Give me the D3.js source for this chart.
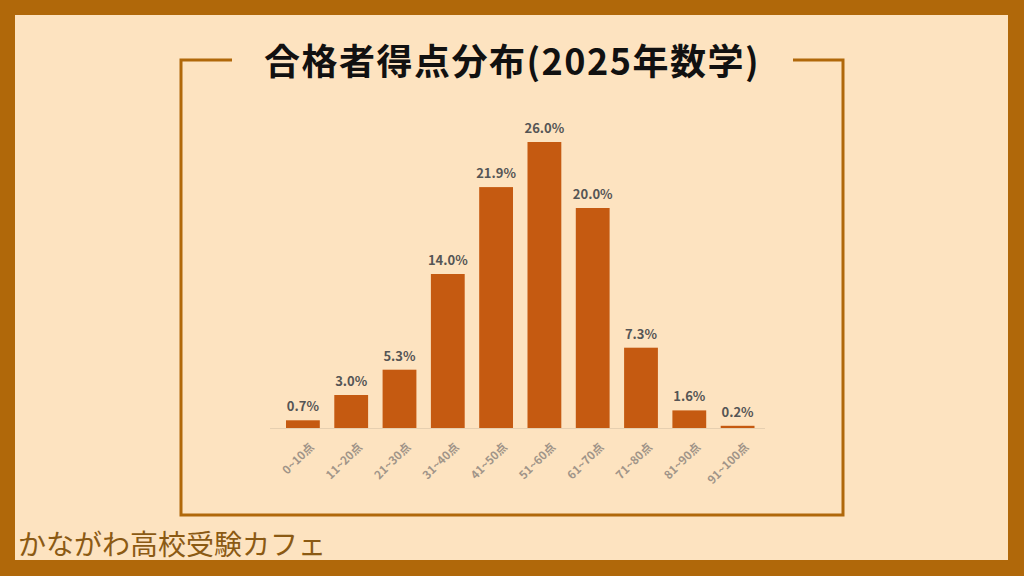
<!DOCTYPE html><html><head><meta charset="utf-8"><script src="https://cdn.jsdelivr.net/npm/d3@7"></script>
<style>body{margin:0}svg{display:block}</style></head><body><svg width="1024" height="576"></svg><script>
const categories=["0~10点","11~20点","21~30点","31~40点","41~50点","51~60点","61~70点","71~80点","81~90点","91~100点"];
const values=[0.7,3.0,5.3,14.0,21.9,26.0,20.0,7.3,1.6,0.2];
const title="合格者得点分布(2025年数学)";
const credit="かながわ高校受験カフェ";
const svg=d3.select("svg");
const font="'Noto Sans CJK JP','Noto Sans',sans-serif";
svg.append("rect").attr("width",1024).attr("height",576).attr("fill","#B0680A");
svg.append("rect").attr("x",15).attr("y",15).attr("width",993).attr("height",545).attr("fill","#FDE3C0");
svg.append("path").attr("d","M232,60H181V515H843V60H793").attr("fill","none").attr("stroke","#B0680A").attr("stroke-width",3);
svg.append("text").attr("x",512).attr("y",75).attr("text-anchor","middle").attr("font-family",font).attr("font-weight","bold").attr("font-size",36).attr("letter-spacing",1.5).attr("fill","#111").text(title);
svg.append("text").attr("x",18).attr("y",555).attr("font-family",font).attr("font-size",28).attr("fill","#8B5A14").text(credit);
const x=d3.scaleBand().domain(categories).range([271.5,769]).padding(0.3);
const y=d3.scaleLinear().domain([0,26]).range([428,142]);
const g=svg.append("g");
g.append("line").attr("x1",270).attr("x2",765).attr("y1",428.5).attr("y2",428.5).attr("stroke","#e6cfb0");
g.selectAll("rect.b").data(values).join("rect").attr("class","b")
 .attr("x",(d,i)=>x(categories[i])).attr("width",x.bandwidth())
 .attr("y",d=>Math.min(y(d),426.5)).attr("height",d=>Math.max(428-y(d),1.5)).attr("fill","#C55A11");
g.selectAll("text.v").data(values).join("text").attr("class","v")
 .attr("x",(d,i)=>x(categories[i])+x.bandwidth()/2).attr("y",d=>y(d)-9)
 .attr("text-anchor","middle").attr("font-family",font).attr("font-weight","bold").attr("font-size",13).attr("fill","#555").text(d=>d.toFixed(1)+"%");
const ax=svg.append("g").attr("transform","translate(0,428)").call(d3.axisBottom(x).tickSize(0).tickPadding(0));
ax.select(".domain").remove();
ax.selectAll("text").attr("font-family",font).attr("font-size",11.5).attr("font-weight","bold").attr("fill","#a09488")
 .attr("text-anchor","end").attr("transform","translate(6,14) rotate(-45)");
</script></body></html>
